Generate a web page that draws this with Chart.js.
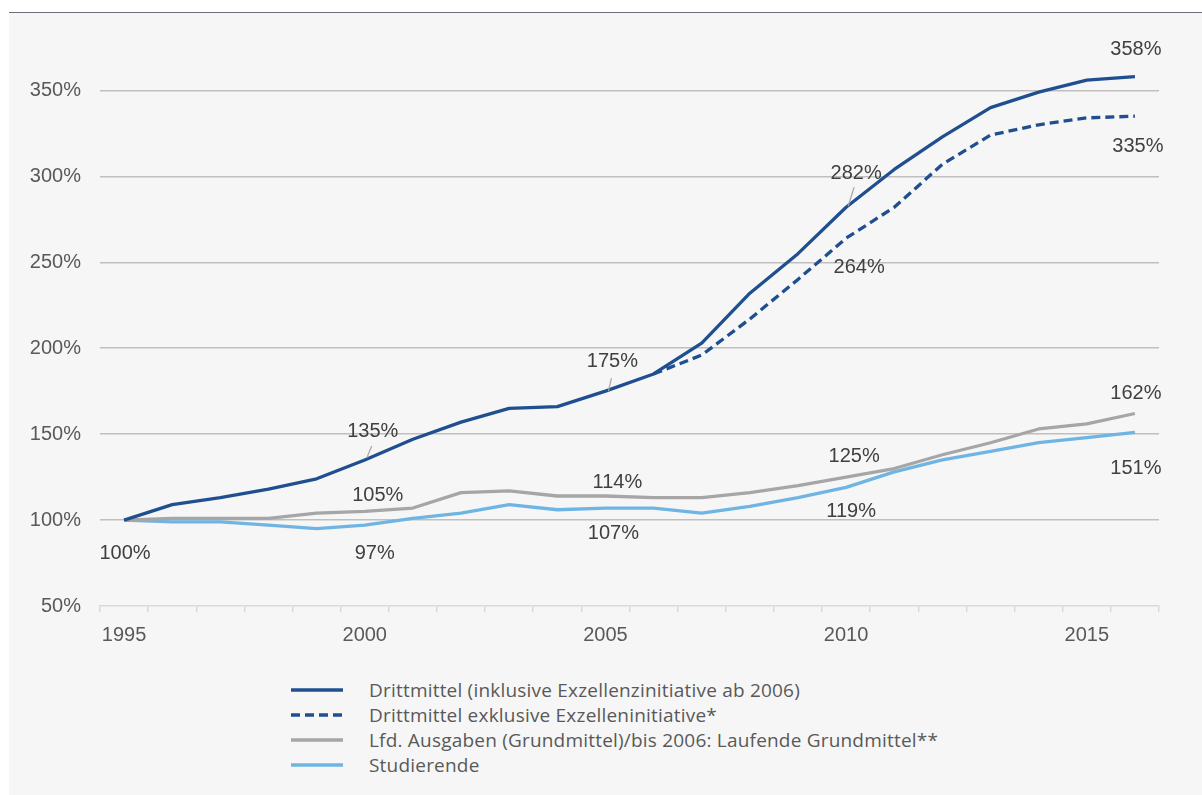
<!DOCTYPE html>
<html lang="de">
<head>
<meta charset="utf-8">
<title>Drittmittel, Grundmittel und Studierende, 1995 = 100%</title>
<script src="https://cdn.jsdelivr.net/npm/chart.js@4.4.1/dist/chart.umd.min.js"></script>
<style>
  html, body { margin: 0; padding: 0; background: #ffffff; }
  body { width: 1202px; height: 795px; position: relative; overflow: hidden; }
  #panel {
    position: absolute; left: 9px; top: 12px; right: 0; bottom: 0;
    background: #f6f6f6; border-top: 1.5px solid #6c7277;
  }
  #wrap { position: absolute; left: 0; top: 13px; width: 1202px; height: 640px; }
  #legend {
    position: absolute; left: 291px; top: 677px;
    font-family: "Open Sans", sans-serif;
    font-size: 19px; letter-spacing: 0.2px; color: #595959;
  }
  .item { display: flex; align-items: center; height: 25px; }
  .swatch { width: 52px; height: 4px; margin-right: 26px; display: block; }
</style>
</head>
<body>
<div id="panel"></div>
<div id="wrap"><canvas id="chart"></canvas></div>
<div id="legend"></div>
<script>
// Index values, 1995 = 100 %
const years = ['1995','1996','1997','1998','1999','2000','2001','2002','2003','2004','2005',
               '2006','2007','2008','2009','2010','2011','2012','2013','2014','2015','2016'];

const drittmittelInkl = [100, 109, 113, 118, 124, 135, 147, 157, 165, 166, 175,
                         185, 203, 232, 255, 282, 304, 323, 340, 349, 356, 358];
const drittmittelExkl = [null, null, null, null, null, null, null, null, null, null, null,
                         185, 196, 217, 240, 264, 282, 307, 324, 330, 334, 335];
const grundmittel     = [100, 101, 101, 101, 104, 105, 107, 116, 117, 114, 114,
                         113, 113, 116, 120, 125, 130, 138, 145, 153, 156, 162];
const studierende     = [100, 99, 99, 97, 95, 97, 101, 104, 109, 106, 107,
                         107, 104, 108, 113, 119, 128, 135, 140, 145, 148, 151];

const yTicks = [50, 100, 150, 200, 250, 300, 350];

const seriesNames = [
  'Drittmittel (inklusive Exzellenzinitiative ab 2006)',
  'Drittmittel exklusive Exzelleninitiative*',
  'Lfd. Ausgaben (Grundmittel)/bis 2006: Laufende Grundmittel**',
  'Studierende'
];

const DARK_BLUE = '#1f4f8f';
const GREY = '#a6a6a6';
const LIGHT_BLUE = '#6fb5e3';

// Value labels: dataset index, year, text offset from the point, optional leader line
const valueLabels = [
  { ds: 0, year: '1995', dx: 1,  dy: 33 },
  { ds: 0, year: '2000', dx: 8,  dy: -28, leader: [2, -2, 7, -14] },
  { ds: 0, year: '2005', dx: 7,  dy: -30, leader: [3, 0, 6, -13] },
  { ds: 0, year: '2010', dx: 10, dy: -34, leader: [2, -1, 8, -20] },
  { ds: 0, year: '2016', dx: 1,  dy: -27 },
  { ds: 1, year: '2010', dx: 13, dy: 29 },
  { ds: 1, year: '2016', dx: 3,  dy: 30 },
  { ds: 2, year: '2000', dx: 13, dy: -16 },
  { ds: 2, year: '2005', dx: 12, dy: -14 },
  { ds: 2, year: '2010', dx: 8,  dy: -21 },
  { ds: 2, year: '2016', dx: 1,  dy: -20 },
  { ds: 3, year: '2000', dx: 10, dy: 28 },
  { ds: 3, year: '2005', dx: 8,  dy: 25 },
  { ds: 3, year: '2010', dx: 5,  dy: 24 },
  { ds: 3, year: '2016', dx: 1,  dy: 36 }
];

const FONT = "'Liberation Sans', Arial, sans-serif";

const valueLabelPlugin = {
  id: 'valueLabels',
  afterDatasetsDraw(chart) {
    const ctx = chart.ctx;
    ctx.save();
    ctx.font = '20px ' + FONT;
    ctx.textAlign = 'center';
    ctx.textBaseline = 'middle';
    valueLabels.forEach(l => {
      const idx = years.indexOf(l.year);
      const pt = chart.getDatasetMeta(l.ds).data[idx];
      const v = chart.data.datasets[l.ds].data[idx];
      if (l.leader) {
        ctx.strokeStyle = '#a6a6a6';
        ctx.lineWidth = 1.2;
        ctx.beginPath();
        ctx.moveTo(pt.x + l.leader[0], pt.y + l.leader[1]);
        ctx.lineTo(pt.x + l.leader[2], pt.y + l.leader[3]);
        ctx.stroke();
      }
      ctx.fillStyle = '#404040';
      ctx.fillText(Math.round(v) + '%', pt.x + l.dx, pt.y + l.dy);
    });
    ctx.restore();
  }
};

const ctx = document.getElementById('chart');
const chart = new Chart(ctx, {
  type: 'line',
  data: {
    labels: years,
    datasets: [
      { label: seriesNames[0], data: drittmittelInkl, borderColor: DARK_BLUE, borderWidth: 3.3 },
      { label: seriesNames[1], data: drittmittelExkl, borderColor: DARK_BLUE, borderWidth: 3.3,
        borderDash: [9, 5], borderCapStyle: 'butt' },
      { label: seriesNames[2], data: grundmittel, borderColor: GREY, borderWidth: 3.3 },
      { label: seriesNames[3], data: studierende, borderColor: LIGHT_BLUE, borderWidth: 3.3 }
    ]
  },
  options: {
    responsive: true,
    maintainAspectRatio: false,
    animation: false,
    layout: { padding: { left: 0, right: 43, top: 0, bottom: 0 } },
    elements: {
      point: { radius: 0, hoverRadius: 0 },
      line: { tension: 0, borderJoinStyle: 'round', fill: false }
    },
    plugins: {
      legend: { display: false },
      tooltip: { enabled: false }
    },
    scales: {
      x: {
        type: 'category',
        offset: true,
        grid: {
          offset: true,
          drawOnChartArea: false,
          drawTicks: true,
          tickLength: 6,
          color: '#d9d9d9',
          lineWidth: 1.5
        },
        border: { display: true, color: '#d9d9d9', width: 1.5 },
        ticks: {
          autoSkip: false,
          maxRotation: 0,
          padding: 11,
          color: '#595959',
          font: { family: FONT, size: 20 },
          callback(value) {
            const y = years[value];
            return (+y) % 5 === 0 ? y : '';
          }
        },
        afterFit(scale) { scale.height = 47; }
      },
      y: {
        min: 50,
        max: 377,
        afterBuildTicks(scale) { scale.ticks = yTicks.map(v => ({ value: v })); },
        grid: {
          drawTicks: false,
          color: c => (c.tick && c.tick.value === 50) ? 'rgba(0,0,0,0)' : '#bfbfbf',
          lineWidth: 1.5
        },
        border: { display: false },
        ticks: {
          padding: 19,
          color: '#595959',
          font: { family: FONT, size: 20 },
          callback: v => v + '%'
        },
        afterFit(scale) { scale.width = 100; }
      }
    }
  },
  plugins: [valueLabelPlugin]
});

// Legend built from the dataset styles
const SVG_NS = 'http://www.w3.org/2000/svg';
const legendEl = document.getElementById('legend');
chart.data.datasets.forEach(ds => {
  const row = document.createElement('div');
  row.className = 'item';
  const sw = document.createElementNS(SVG_NS, 'svg');
  sw.setAttribute('class', 'swatch');
  sw.setAttribute('width', '52');
  sw.setAttribute('height', '4');
  const ln = document.createElementNS(SVG_NS, 'line');
  ln.setAttribute('x1', '0'); ln.setAttribute('y1', '2');
  ln.setAttribute('x2', '52'); ln.setAttribute('y2', '2');
  ln.setAttribute('stroke', ds.borderColor);
  ln.setAttribute('stroke-width', '3.3');
  if (ds.borderDash) ln.setAttribute('stroke-dasharray', ds.borderDash.join(' '));
  sw.appendChild(ln);
  const txt = document.createElement('span');
  txt.textContent = ds.label;
  row.appendChild(sw);
  row.appendChild(txt);
  legendEl.appendChild(row);
});
</script>
</body>
</html>
